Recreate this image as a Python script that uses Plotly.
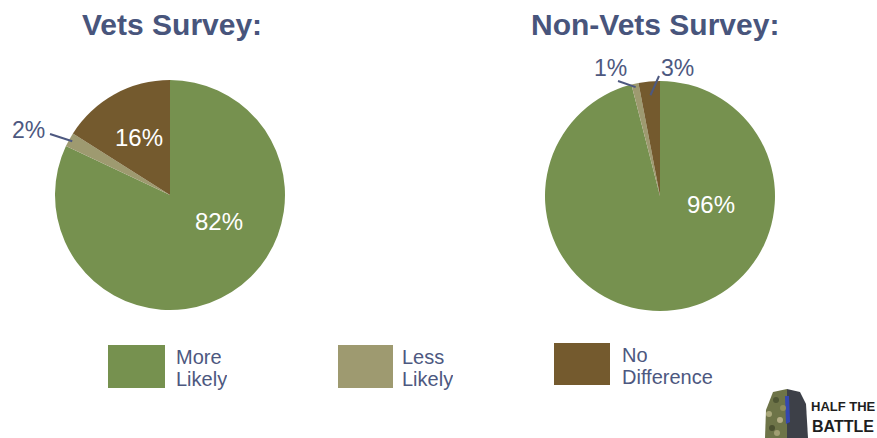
import math
import plotly.graph_objects as go

W, H = 877, 438

# ---- data ----
categories = ["More Likely", "Less Likely", "No Difference"]
slice_colors = ["#76914f", "#9e9a70", "#745a2e"]
vets_values = [82, 2, 16]
nonvets_values = [96, 1, 3]
titles = ["Vets Survey:", "Non-Vets Survey:"]

TITLE_COLOR = "#48557c"
TEXT_COLOR = "#4d5880"
FONT = "Liberation Sans, Arial, sans-serif"


def px(x):
    return x / W


def py(y):
    return 1 - y / H


# ---- layout of the two pies (pixel geometry) ----
PIE_R = 115
pie_specs = [
    dict(values=vets_values, title=titles[0], cx=170, cy=195, title_x=172,
         # per slice: (kind, dx, dy, leader_start_dx, leader_start_dy, leader_r)
         labels=[("in", 49, 26), ("out", -142, -65, 22, 4, 0.97), ("in", -31, -58)]),
    dict(values=nonvets_values, title=titles[1], cx=660, cy=196, title_x=655,
         labels=[("in", 51, 9), ("out", -50, -128, 8, 13, 0.97), ("out", 17, -128, -18, 8, 0.88)]),
]

fig = go.Figure()
annotations = []
shapes = []

for spec in pie_specs:
    cx, cy = spec["cx"], spec["cy"]
    fig.add_trace(go.Pie(
        labels=categories,
        values=spec["values"],
        marker=dict(colors=slice_colors, line=dict(width=0)),
        sort=False,
        direction="clockwise",
        rotation=0,
        textinfo="none",
        showlegend=False,
        domain=dict(x=[px(cx - PIE_R), px(cx + PIE_R)],
                    y=[py(cy + PIE_R), py(cy - PIE_R)]),
    ))

    annotations.append(dict(
        x=px(spec["title_x"]), y=py(24), xref="paper", yref="paper",
        text=f"<b>{spec['title']}</b>", showarrow=False,
        font=dict(family=FONT, size=30, color=TITLE_COLOR),
        xanchor="center", yanchor="middle",
    ))

    total = sum(spec["values"])
    cum = 0
    for v, lab in zip(spec["values"], spec["labels"]):
        theta = 2 * math.pi * (cum + v / 2) / total
        cum += v
        lx, ly = cx + lab[1], cy + lab[2]
        if lab[0] == "in":
            annotations.append(dict(
                x=px(lx), y=py(ly), xref="paper", yref="paper",
                text=f"{v}%", showarrow=False,
                font=dict(family=FONT, size=24, color="white"),
                xanchor="center", yanchor="middle",
            ))
        else:
            annotations.append(dict(
                x=px(lx), y=py(ly), xref="paper", yref="paper",
                text=f"{v}%", showarrow=False,
                font=dict(family=FONT, size=23, color=TEXT_COLOR),
                xanchor="center", yanchor="middle",
            ))
            r = PIE_R * lab[5]
            ex = cx + r * math.sin(theta)
            ey = cy - r * math.cos(theta)
            shapes.append(dict(
                type="line", xref="paper", yref="paper",
                x0=px(lx + lab[3]), y0=py(ly + lab[4]), x1=px(ex), y1=py(ey),
                line=dict(color=TEXT_COLOR, width=2),
            ))

# ---- legend: colour squares with two-line labels ----
legend_boxes = [(108, 345, 165, 388), (338, 345, 393, 388), (554, 343, 610, 385)]
legend_text_x = [176, 402, 622]
LINE_STEP = 22
for cat, col, (x0, y0, x1, y1), tx in zip(categories, slice_colors, legend_boxes, legend_text_x):
    shapes.append(dict(type="rect", xref="paper", yref="paper",
                       x0=px(x0), y0=py(y1), x1=px(x1), y1=py(y0),
                       fillcolor=col, line=dict(width=0)))
    for i, word in enumerate(cat.split(" ", 1)):
        annotations.append(dict(
            x=px(tx - 1), y=py(y0 + 12 + LINE_STEP * i), xref="paper", yref="paper",
            text=word, showarrow=False, height=LINE_STEP, valign="middle",
            font=dict(family=FONT, size=20, color=TEXT_COLOR),
            xanchor="left", yanchor="middle", borderpad=0,
        ))

# ---- logo in the lower right corner ----
def path(points):
    return "M " + " L ".join(f"{px(x)},{py(y)}" for x, y in points) + " Z"

shapes += [
    dict(type="path", xref="paper", yref="paper",
         path=path([(773, 392), (787, 389), (787, 438), (765, 438), (766, 410)]),
         fillcolor="#6e7448", line=dict(width=0)),
    dict(type="path", xref="paper", yref="paper",
         path=path([(787, 389), (800, 392), (806, 404), (808, 438), (787, 438)]),
         fillcolor="#3d4048", line=dict(width=0)),
    dict(type="path", xref="paper", yref="paper",
         path=path([(785, 396), (789, 396), (790, 422), (786, 424)]),
         fillcolor="#3447b0", line=dict(width=0)),
]
camo_spots = [(769, 414, "#a9a77a"), (776, 400, "#4f5634"), (780, 420, "#b4ad86"),
              (772, 428, "#4b5030"), (783, 408, "#8f8c5c"), (777, 433, "#a19e72")]
for sx, sy, sc in camo_spots:
    shapes.append(dict(type="circle", xref="paper", yref="paper",
                       x0=px(sx - 3), x1=px(sx + 3), y0=py(sy + 3), y1=py(sy - 3),
                       fillcolor=sc, line=dict(width=0)))

LOGO_FONT = "Liberation Sans, Arial, sans-serif"
annotations += [
    dict(x=px(843), y=py(406), xref="paper", yref="paper", text="<b>HALF THE</b>",
         showarrow=False, xanchor="center", yanchor="middle",
         font=dict(family=LOGO_FONT, size=13, color="#1e1e1e")),
    dict(x=px(843), y=py(426), xref="paper", yref="paper", text="<b>BATTLE</b>",
         showarrow=False, xanchor="center", yanchor="middle",
         font=dict(family=LOGO_FONT, size=16, color="#1e1e1e")),
]

fig.update_layout(
    width=W, height=H,
    margin=dict(l=0, r=0, t=0, b=0),
    paper_bgcolor="white", plot_bgcolor="white",
    annotations=annotations,
    shapes=shapes,
)

fig.write_html("out.html")
